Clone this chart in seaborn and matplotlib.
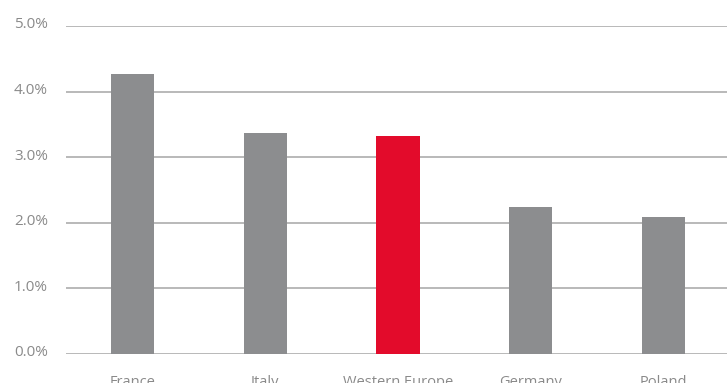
import matplotlib
matplotlib.use("Agg")
import matplotlib.pyplot as plt
import matplotlib.transforms as mtransforms
import seaborn as sns
import pandas as pd
from matplotlib.ticker import FuncFormatter

regions = ["France", "Italy", "Western Europe", "Germany", "Poland"]
growth = [4.27, 3.37, 3.32, 2.24, 2.09]
highlight = "Western Europe"

sns.set_theme(style="white")
plt.rcParams["font.family"] = ["Open Sans", "DejaVu Sans"]

df = pd.DataFrame({"region": regions, "growth": growth})
palette = {r: ("#e30b2b" if r == highlight else "#8c8d8f") for r in regions}

fig = plt.figure(figsize=(7.27, 3.83), dpi=100)
ax = fig.add_axes([66 / 727, 29 / 383, 664 / 727, 328 / 383])

sns.barplot(data=df, x="region", y="growth", hue="region", palette=palette,
            width=0.325, legend=False, ax=ax, saturation=1, linewidth=0)

ax.set_ylim(0, 5.0)
ax.set_xlim(-0.5, 4.5)
ax.set_yticks([0, 1, 2, 3, 4, 5])
ax.yaxis.set_major_formatter(FuncFormatter(lambda v, _: f"{v:.1f}%"))
ax.grid(axis="y", color="#b3b3b3", linewidth=1.3, zorder=0)
ax.set_axisbelow(True)
for s in ax.spines.values():
    s.set_visible(False)
ax.tick_params(axis="y", length=0, pad=13, labelsize=11, labelcolor="#8a8a8a")
ax.tick_params(axis="x", length=0, pad=15, labelsize=10.5, labelcolor="#8a8a8a")
ax.set_xlabel("")
ax.set_ylabel("")

# lift the percentage labels slightly above their gridlines
lift = mtransforms.ScaledTranslation(0, 3 / 100, fig.dpi_scale_trans)
for lab in ax.get_yticklabels():
    lab.set_transform(lab.get_transform() + lift)

fig.savefig("out.png", dpi=100)
